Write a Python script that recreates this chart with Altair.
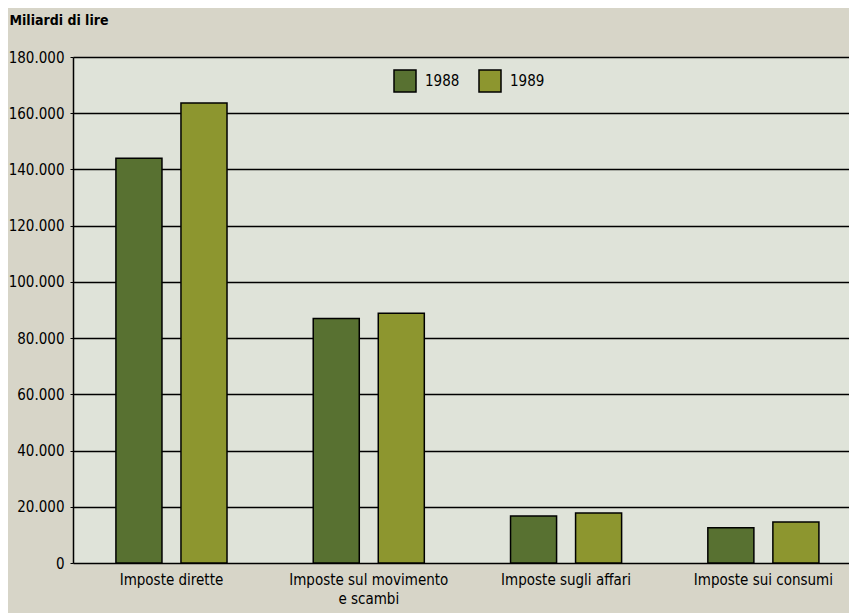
import altair as alt
import pandas as pd

categories = ["Imposte dirette", "Imposte sul movimento|e scambi", "Imposte sugli affari", "Imposte sui consumi"]
years = ["1988", "1989"]
values_1988 = [144000, 87000, 16700, 12500]
values_1989 = [163600, 88800, 17800, 14600]
colors = ["#587131", "#8d962f"]
y_ticks = [0, 20000, 40000, 60000, 80000, 100000, 120000, 140000, 160000, 180000]

rows = []
for c, a, b in zip(categories, values_1988, values_1989):
    rows.append({"cat": c, "anno": "1988", "v": a})
    rows.append({"cat": c, "anno": "1989", "v": b})
df = pd.DataFrame(rows)

FONT = "Liberation Sans Narrow, DejaVu Sans Condensed, sans-serif"

chart = alt.Chart(df).mark_bar(stroke="black", strokeWidth=1.5).encode(
    x=alt.X("cat:N", sort=categories,
            scale=alt.Scale(paddingInner=0.437, paddingOuter=0.185, align=0.588),
            axis=alt.Axis(title=None, labelAngle=0, labelExpr="split(datum.label, '|')",
                          labelFontSize=15, labelPadding=9, ticks=False, domain=False,
                          labelColor="black", labelFont=FONT, labelLineHeight=19)),
    xOffset=alt.XOffset("anno:N", scale=alt.Scale(paddingInner=0.292, paddingOuter=0)),
    y=alt.Y("v:Q", scale=alt.Scale(domain=[0, 180000], nice=False),
            axis=alt.Axis(title="Miliardi di lire", titleAngle=0, titleAlign="left",
                          titleX=-64, titleY=-30, titleFontSize=14, titleFontWeight="bold",
                          titleFont=FONT, titleColor="black",
                          values=y_ticks,
                          labelExpr="datum.value == 0 ? '0' : floor(datum.value/1000) + '.000'",
                          labelFontSize=15, labelFont=FONT, labelColor="black", labelPadding=6,
                          tickSize=3, tickColor="black", domainColor="black", domainWidth=1.5,
                          grid=True, gridColor="black", gridWidth=1.5, gridOpacity=1)),
    color=alt.Color("anno:N", scale=alt.Scale(domain=years, range=colors),
                    legend=alt.Legend(title=None, orient="none", legendX=320, legendY=12,
                                      direction="horizontal", symbolType="square",
                                      symbolSize=484, symbolStrokeColor="black",
                                      symbolStrokeWidth=1.5, labelFontSize=15, labelFont=FONT,
                                      labelColor="black", columnPadding=16, labelOffset=8)),
).properties(
    width=776, height=506,
    autosize=alt.AutoSizeParams(type="none"),
    padding={"left": 65, "top": 49, "right": 0, "bottom": 50},
    background="#d7d5c8",
).configure_view(fill="#dfe3d9", strokeWidth=0)

chart.save("out.html", embed_options={"renderer": "svg", "actions": False})
